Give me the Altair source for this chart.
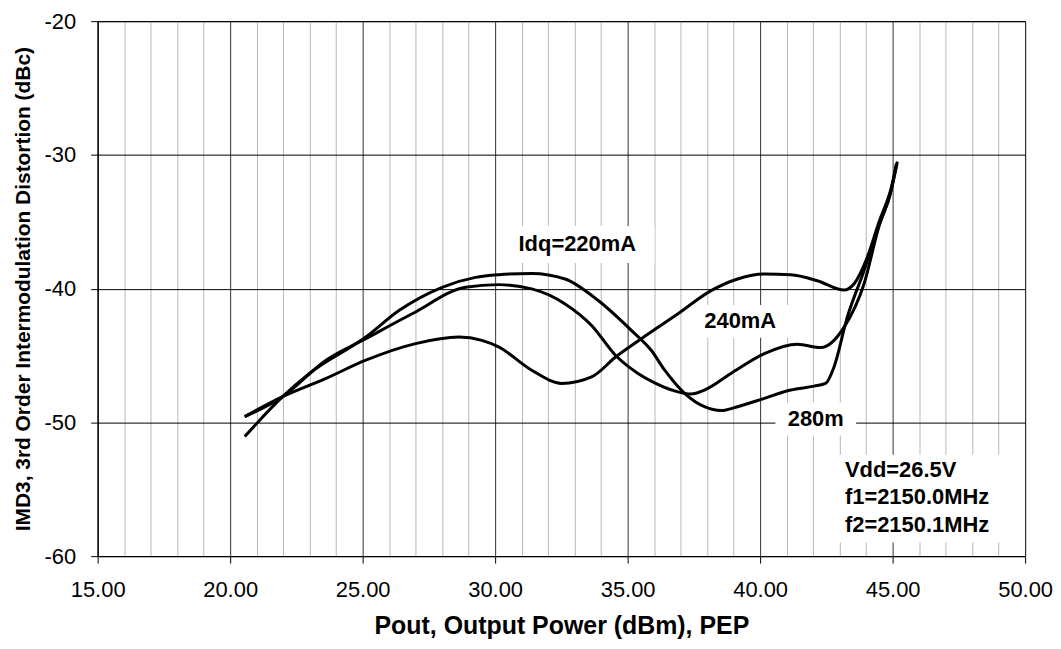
import altair as alt
import pandas as pd

# ---- curve data ----
x_220 = [20.55, 21.98, 22.99, 25.12, 26.37, 28.00, 29.26, 30.13, 31.38, 32.64, 33.89, 35.14, 35.89,
         36.40, 37.15, 37.90, 38.53, 39.15, 40.16, 41.16, 42.04, 42.47, 42.79, 43.29, 43.92, 44.49,
         44.93, 45.14]
y_220 = [-51.06, -48.08, -46.34, -43.62, -41.64, -39.90, -39.16, -38.96, -38.86, -39.28, -40.89, -43.12,
         -44.61, -46.10, -47.83, -48.83, -49.12, -48.83, -48.20, -47.58, -47.29, -47.09, -45.85, -42.13,
         -38.66, -35.24, -32.75, -30.66]

x_240 = [20.55, 21.98, 23.62, 25.12, 26.87, 28.88, 30.13, 31.38, 32.64, 33.64, 34.58, 35.39, 36.02,
         36.77, 37.40, 37.90, 38.90, 40.16, 41.41, 42.29, 43.17, 43.92, 44.49, 44.93, 45.16]
y_240 = [-49.57, -48.08, -45.35, -43.74, -41.88, -39.90, -39.70, -40.02, -41.14, -42.75, -45.06, -46.34,
         -47.04, -47.64, -47.88, -47.58, -46.34, -44.86, -44.16, -44.41, -42.88, -39.65, -35.30, -32.80,
         -30.70]

x_280 = [20.55, 21.98, 23.62, 25.12, 27.00, 28.63, 29.50, 30.13, 31.38, 32.51, 33.64, 34.58, 35.52,
         36.90, 38.15, 39.15, 40.16, 41.16, 42.16, 43.17, 43.54, 44.04, 44.49, 44.93, 45.18]
y_280 = [-49.57, -48.08, -46.71, -45.35, -44.11, -43.62, -43.87, -44.36, -46.10, -47.09, -46.60, -45.06,
         -43.74, -41.88, -40.15, -39.28, -38.91, -38.96, -39.41, -40.10, -39.65, -37.67, -35.00, -32.60,
         -30.50]

series_names = ["220mA", "240mA", "280mA"]

# ---- axis ticks ----
x_ticks = list(range(15, 51))
y_ticks = [-60, -50, -40, -30, -20]

# ---- annotations ----
ann_text = ["Idq=220mA", "240mA", "280m"]
ann_x = [33.1, 39.25, 42.1]
ann_y = [-36.7, -42.45, -49.75]

note_text = "Vdd=26.5V\nf1=2150.0MHz\nf2=2150.1MHz"
note_x = 43.2
note_y = -53.55
note_box_x = 45.95
note_box_y = -55.7

rows = []
for name, xs, ys in zip(series_names, [x_220, x_240, x_280], [y_220, y_240, y_280]):
    for i, (xv, yv) in enumerate(zip(xs, ys)):
        rows.append({"series": name, "pout": xv, "imd": yv, "i": i})
df = pd.DataFrame(rows)

ann_df = pd.DataFrame({"text": ann_text, "x": ann_x, "y": ann_y})
note_df = pd.DataFrame({"text": [note_text], "x": [note_x], "y": [note_y],
                        "bx": [note_box_x], "by": [note_box_y]})

FONT = "Liberation Sans"

xscale = alt.Scale(domain=[15, 50], nice=False, zero=False)
yscale = alt.Scale(domain=[-60, -20], nice=False, zero=False)

is_major = "datum.value % 5 === 0"

x_axis = alt.Axis(
    values=x_ticks,
    labelExpr="datum.value % 5 === 0 ? format(datum.value, '.2f') : ''",
    grid=True,
    gridColor={"condition": {"test": is_major, "value": "#333333"}, "value": "#b8b8b8"},
    gridWidth=1,
    tickOpacity={"condition": {"test": is_major, "value": 1}, "value": 0},
    tickSize=7, tickColor="black", domainColor="black",
    labelFont=FONT, labelFontSize=22, labelColor="black", labelPadding=17,
    labelOverlap=False, labelFlush=False, labelBound=False,
    title="Pout, Output Power (dBm), PEP",
    titleFont=FONT, titleFontSize=25, titleFontWeight="bold", titleColor="black",
    titlePadding=13,
)

y_axis = alt.Axis(
    values=y_ticks,
    labelExpr="'' + datum.value",
    grid=True, gridColor="black", gridWidth=1,
    tickSize=7, tickColor="black", domainColor="black",
    labelFont=FONT, labelFontSize=22, labelColor="black", labelPadding=15,
    labelOverlap=False, labelBound=False, labelFlush=False,
    title="IMD3, 3rd Order Intermodulation Distortion (dBc)",
    titleFont=FONT, titleFontSize=21, titleFontWeight="bold", titleColor="black",
    titlePadding=11,
)


def X(field):
    return alt.X(field, type="quantitative", scale=xscale, axis=x_axis)


def Y(field):
    return alt.Y(field, type="quantitative", scale=yscale, axis=y_axis)


lines = alt.Chart(df).mark_line(strokeWidth=3, color="black", interpolate="monotone").encode(
    x=X("pout"), y=Y("imd"), detail="series:N", order="i:Q",
)

layers = [lines]

box_sizes = [(155, 37), (97, 33), (81, 33)]
for k, (bw, bh) in enumerate(box_sizes):
    sub = ann_df.iloc[[k]]
    layers.append(
        alt.Chart(sub).mark_rect(width=bw, height=bh, color="white").encode(x=X("x"), y=Y("y"))
    )

layers.append(
    alt.Chart(note_df).mark_rect(width=167, height=88, color="white").encode(x=X("bx"), y=Y("by"))
)

labels = alt.Chart(ann_df).mark_text(
    font=FONT, fontSize=22, fontWeight="bold", color="black", align="center", baseline="middle"
).encode(x=X("x"), y=Y("y"), text="text:N")

note = alt.Chart(note_df).mark_text(
    font=FONT, fontSize=22, fontWeight="bold", color="black", align="left", baseline="middle",
    lineBreak="\n", lineHeight=27.5
).encode(x=X("x"), y=Y("y"), text="text:N")

layers += [labels, note]

chart = alt.layer(*layers).properties(
    width=931, height=537,
    autosize=alt.AutoSizeParams(type="none"),
    padding={"left": 90, "top": 12, "right": 28, "bottom": 84},
).configure_view(stroke="black", strokeWidth=1)

chart.save("out.html", embed_options={"renderer": "svg", "actions": False})
